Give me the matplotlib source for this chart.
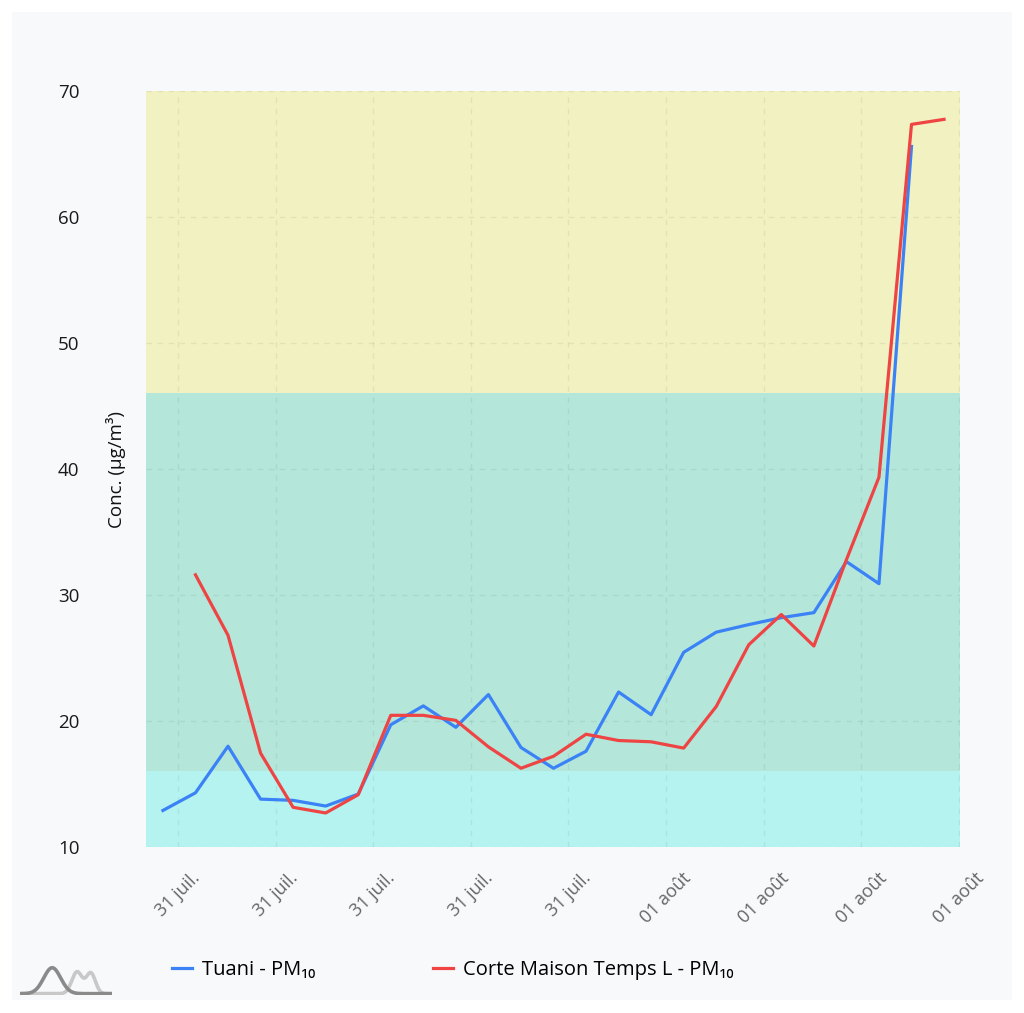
import numpy as np
import matplotlib.pyplot as plt
from matplotlib.patches import Rectangle

plt.rcParams['font.family'] = ['Open Sans', 'DejaVu Sans']

# hourly index of each measure
hours = list(range(25))
tuani = [12.9, 14.3, 18.0, 13.8, 13.7, 13.25, 14.2, 19.7, 21.2, 19.5, 22.1, 17.9,
         16.25, 17.6, 22.3, 20.5, 25.45, 27.05, 27.65, 28.2, 28.6, 32.65, 30.9, 65.6]
corte = [31.6, 26.8, 17.45, 13.15, 12.7, 14.15, 20.45, 20.45, 20.05, 17.95, 16.25,
         17.2, 18.95, 18.45, 18.35, 17.85, 21.15, 26.05, 28.45, 25.95, 32.8, 39.35,
         67.35, 67.75]
tick_labels = ['31 juil.'] * 5 + ['01 août'] * 4

# pollution index bands (lower, upper, colour)
bands = [(10, 16, '#b4f3ef'), (16, 46, '#b4e7da'), (46, 70, '#f2f1c1')]

bg = '#f8f9fb'
fig = plt.figure(figsize=(10.24, 10.13), dpi=100)
fig.patches.append(Rectangle((12/1024, 13/1013), 1000/1024, 988/1013,
                             transform=fig.transFigure, facecolor=bg,
                             edgecolor='none', zorder=-10))

ax = fig.add_axes([146/1024, 1-847/1013, 814/1024, 756/1013])
ax.set_facecolor(bg)
for lo, hi, c in bands:
    ax.axhspan(lo, hi, color=c, zorder=0, lw=0)

ax.plot(hours[:len(tuani)], tuani, color='#3b82f6', lw=2.3, label='Tuani - PM₁₀', zorder=3)
ax.plot(hours[1:1+len(corte)], corte, color='#ef4444', lw=2.3,
        label='Corte Maison Temps L - PM₁₀', zorder=4)

ax.set_xlim(-0.52, 24.49)
ax.set_ylim(10, 70)
ax.set_yticks(range(10, 71, 10))
xt = [0.46 + 3*k for k in range(9)]
ax.set_xticks(xt)
ax.set_xticklabels(tick_labels, rotation=45, ha='center', va='top',
                   color='#666666', fontsize=13)
ax.tick_params(axis='x', length=0, pad=16)
ax.tick_params(axis='y', length=0, pad=48, labelsize=13.5, labelcolor='#1a1a1a')

ax.grid(True, ls=(0, (4, 4)), color='#000000', alpha=0.06, lw=1)
ax.set_axisbelow(True)
for s in ax.spines.values():
    s.set_visible(False)

ax.set_ylabel('Conc. (µg/m³)', fontsize=13.5, color='#111111')
ax.yaxis.set_label_coords(-0.024, 0.5)

fig.legend(loc='center left', bbox_to_anchor=(172/1024, 1-970/1013), ncol=2,
           frameon=False, fontsize=14.5, handlelength=1.0, handletextpad=0.5,
           columnspacing=5.85, borderpad=0, borderaxespad=0)

# small logo bottom-left
lax = fig.add_axes([20/1024, 1-995/1013, 92/1024, 30/1013])
lx = np.linspace(0, 1, 200)
lax.plot(lx, 0.05 + 0.8*np.exp(-((lx-0.62)/0.08)**2) + 0.75*np.exp(-((lx-0.77)/0.07)**2),
         color='#c8c8c8', lw=2.6, solid_capstyle='butt')
lax.plot(lx, 0.05 + 0.95*np.exp(-((lx-0.35)/0.13)**2), color='#8a8a8a', lw=2.6,
         solid_capstyle='butt')
lax.set_xlim(0, 1)
lax.set_ylim(0, 1.1)
lax.axis('off')

fig.savefig('out.png', dpi=100, facecolor='white')
